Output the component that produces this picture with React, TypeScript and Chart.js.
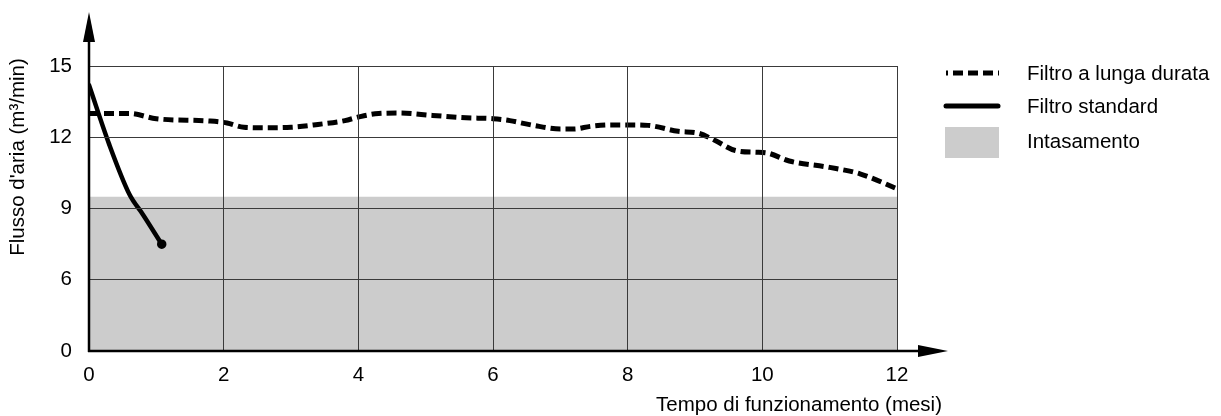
import React, { useEffect, useRef } from "react";
import { Chart, registerables } from "chart.js";

Chart.register(...registerables);

// Data (months, m³/min)
const longLifeX = [0, 0.6, 1.0, 1.8, 2.05, 2.3, 2.6, 3.0, 3.4, 3.8, 4.0, 4.3, 4.6, 5.1, 5.6, 6.0, 6.25, 6.6, 7.0, 7.2, 7.45, 7.75, 8.0, 8.3, 8.75, 9.05, 9.3, 9.6, 9.9, 10.05, 10.4, 11.0, 11.45, 12];
const longLifeY = [13.0, 13.0, 12.78, 12.68, 12.6, 12.42, 12.4, 12.42, 12.54, 12.7, 12.85, 13.0, 13.02, 12.92, 12.82, 12.78, 12.7, 12.5, 12.35, 12.35, 12.46, 12.52, 12.52, 12.5, 12.25, 12.17, 11.86, 11.44, 11.37, 11.35, 11.0, 10.73, 10.46, 9.83];
const standardX = [0, 0.3, 0.6, 0.8, 1.08];
const standardY = [14.2, 11.7, 9.6, 8.75, 7.5];
const cloggingX = [0, 12];
const cloggingY = [9.5, 9.5];
const yTickValues = [3, 6, 9, 12, 15];
const yTickLabels = ["0", "6", "9", "12", "15"];
const xTicks = [0, 2, 4, 6, 8, 10, 12];
const legendLabels = ["Filtro a lunga durata", "Filtro standard", "Intasamento"];
const yTitle = "Flusso d'aria (m³/min)";
const xTitle = "Tempo di funzionamento (mesi)";

const FONT = "'Liberation Sans', Arial, sans-serif";
const FS = 20.5;

export default function App() {
  const canvasRef = useRef<HTMLCanvasElement | null>(null);

  useEffect(() => {
    const canvas = canvasRef.current;
    if (!canvas) return;

    const overlay = {
      id: "overlay",
      afterDraw(chart: any) {
        const ctx = chart.ctx as CanvasRenderingContext2D;
        const xs = chart.scales.x;
        const ys = chart.scales.y;
        const x0 = xs.getPixelForValue(0);
        const y0 = ys.getPixelForValue(3);
        ctx.save();
        ctx.strokeStyle = "#000";
        ctx.fillStyle = "#000";
        ctx.lineWidth = 2.5;
        ctx.beginPath();
        ctx.moveTo(x0, y0 + 1);
        ctx.lineTo(x0, 30);
        ctx.moveTo(x0 - 1, y0);
        ctx.lineTo(930, y0);
        ctx.stroke();
        ctx.beginPath();
        ctx.moveTo(x0, 12);
        ctx.lineTo(x0 - 6, 42);
        ctx.lineTo(x0 + 6, 42);
        ctx.closePath();
        ctx.fill();
        ctx.beginPath();
        ctx.moveTo(948, y0);
        ctx.lineTo(918, y0 - 6);
        ctx.lineTo(918, y0 + 6);
        ctx.closePath();
        ctx.fill();

        ctx.font = `${FS}px ${FONT}`;
        ctx.fillStyle = "#000";
        ctx.textBaseline = "middle";
        ctx.textAlign = "right";
        ctx.fillText(xTitle, 942, 405);
        ctx.save();
        ctx.translate(18, 157);
        ctx.rotate(-Math.PI / 2);
        ctx.textAlign = "center";
        ctx.fillText(yTitle, 0, 0);
        ctx.restore();

        const lx = 946;
        ctx.lineWidth = 5;
        ctx.setLineDash([10, 5]);
        ctx.lineDashOffset = 8;
        ctx.beginPath();
        ctx.moveTo(lx, 73);
        ctx.lineTo(999, 73);
        ctx.stroke();
        ctx.setLineDash([]);
        ctx.lineCap = "round";
        ctx.lineWidth = 5;
        ctx.beginPath();
        ctx.moveTo(lx, 106);
        ctx.lineTo(998, 106);
        ctx.stroke();
        ctx.fillStyle = "#cccccc";
        ctx.fillRect(945, 127, 54, 31);
        ctx.fillStyle = "#000";
        ctx.textAlign = "left";
        ctx.fillText(legendLabels[0], 1027, 74);
        ctx.fillText(legendLabels[1], 1027, 107);
        ctx.fillText(legendLabels[2], 1027, 142);
        ctx.restore();
      },
    };

    const chart = new Chart(canvas, {
      type: "line",
      data: {
        datasets: [
          {
            label: legendLabels[2],
            data: cloggingX.map((x, i) => ({ x, y: cloggingY[i] })),
            borderWidth: 0,
            pointRadius: 0,
            backgroundColor: "#cccccc",
            borderColor: "rgba(0,0,0,0)",
            fill: "start",
            order: 3,
          },
          {
            label: legendLabels[0],
            data: longLifeX.map((x, i) => ({ x, y: longLifeY[i] })),
            borderColor: "#000",
            borderWidth: 5,
            borderDash: [10, 5],
            pointRadius: 0,
            cubicInterpolationMode: "monotone",
            fill: false,
            order: 2,
          },
          {
            label: legendLabels[1],
            data: standardX.map((x, i) => ({ x, y: standardY[i] })),
            borderColor: "#000",
            backgroundColor: "#000",
            borderWidth: 4.5,
            borderCapStyle: "round",
            pointRadius: standardX.map((_, i) => (i === standardX.length - 1 ? 2.5 : 0)),
            cubicInterpolationMode: "monotone",
            fill: false,
            order: 1,
          },
        ],
      },
      options: {
        animation: false,
        responsive: false,
        maintainAspectRatio: false,
        layout: { padding: { top: 66, right: 324, left: 0, bottom: 0 } },
        plugins: { legend: { display: false }, tooltip: { enabled: false } },
        scales: {
          x: {
            type: "linear",
            min: 0,
            max: 12,
            afterBuildTicks: (scale: any) => {
              scale.ticks = xTicks.map((v) => ({ value: v }));
            },
            afterFit: (scale: any) => {
              scale.height = 65;
            },
            ticks: {
              color: "#000",
              font: { family: FONT, size: FS },
              padding: 12,
              maxRotation: 0,
              autoSkip: false,
            },
            grid: { color: "#3a3a3a", lineWidth: 1, drawTicks: false, z: 1 },
            border: { display: false },
          },
          y: {
            type: "linear",
            min: 3,
            max: 15,
            afterBuildTicks: (scale: any) => {
              scale.ticks = yTickValues.map((v) => ({ value: v }));
            },
            afterFit: (scale: any) => {
              scale.width = 89;
            },
            ticks: {
              color: "#000",
              font: { family: FONT, size: FS },
              padding: 17,
              autoSkip: false,
              callback: (v: any) => {
                const i = yTickValues.indexOf(Number(v));
                return i >= 0 ? yTickLabels[i] : "";
              },
            },
            grid: { color: "#3a3a3a", lineWidth: 1, drawTicks: false, z: 1 },
            border: { display: false },
          },
        },
      },
      plugins: [overlay],
    } as any);

    return () => chart.destroy();
  }, []);

  return (
    <div style={{ position: "fixed", left: 0, top: 0, width: 1221, height: 416, background: "#fff" }}>
      <canvas ref={canvasRef} width={1221} height={416} style={{ width: 1221, height: 416, display: "block" }} />
    </div>
  );
}
